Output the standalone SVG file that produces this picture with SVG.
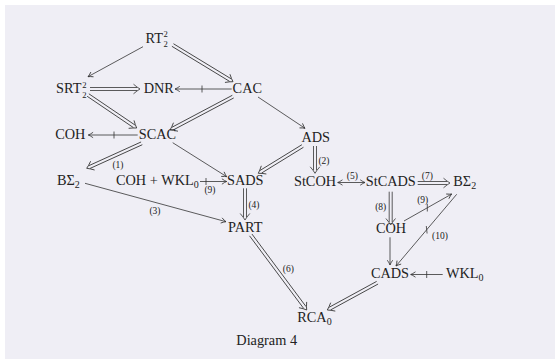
<svg xmlns="http://www.w3.org/2000/svg" width="555" height="359" viewBox="0 0 555 359">
<style>
text{font-family:"Liberation Serif","DejaVu Serif",serif;fill:#222222}
.n{font-size:14.3px}
.s{font-size:10px}
.ss{font-size:8.6px}
.lb{font-size:9.5px;text-anchor:middle}
.c{text-anchor:middle}
.ln{fill:none;stroke:#333333;stroke-width:0.8}
.dbl{fill:none;stroke:#333333;stroke-width:0.8}
</style>
<defs>
<marker id="ah" viewBox="-6 -4 7 8" refX="0" refY="0" markerWidth="7" markerHeight="8" markerUnits="userSpaceOnUse" orient="auto-start-reverse">
<path d="M-4.8,-2.7 Q-1.8,-0.6 0,0 Q-1.8,0.6 -4.8,2.7" fill="none" stroke="#333333" stroke-width="0.8"/>
</marker>
</defs>
<rect x="0" y="0" width="555" height="359" fill="#ffffff"/>
<rect x="5" y="5" width="550" height="354" fill="#efeef5"/>

<g id="connectors">
<line class="ln" x1="143" y1="46.7" x2="88" y2="76.7" marker-end="url(#ah)"/>
<line class="ln" x1="231.7" y1="89" x2="175" y2="89" marker-end="url(#ah)"/>
<line class="ln" x1="202" y1="85.5" x2="202" y2="92.5"/>
<line class="ln" x1="137.7" y1="135" x2="88.3" y2="135" marker-end="url(#ah)"/>
<line class="ln" x1="114" y1="131.5" x2="114" y2="138.5"/>
<line class="ln" x1="172.7" y1="142.7" x2="226.7" y2="176.7" marker-end="url(#ah)"/>
<line class="ln" x1="258" y1="97" x2="305" y2="128.3" marker-end="url(#ah)"/>
<line class="ln" x1="200" y1="181.5" x2="226.7" y2="181.5" marker-end="url(#ah)"/>
<line class="ln" x1="206" y1="178" x2="206" y2="185"/>
<line class="ln" x1="85" y1="183.3" x2="226" y2="221.7" marker-end="url(#ah)"/>
<line class="ln" x1="337.7" y1="182.5" x2="365" y2="182.5" marker-start="url(#ah)" marker-end="url(#ah)"/>
<line class="ln" x1="404" y1="221" x2="451.7" y2="194" marker-end="url(#ah)"/>
<line class="ln" x1="427.3" y1="204" x2="427.3" y2="211.5"/>
<line class="ln" x1="456.7" y1="194.3" x2="396" y2="266" marker-end="url(#ah)"/>
<line class="ln" x1="426.3" y1="226" x2="427.1" y2="233.5"/>
<line class="ln" x1="390" y1="237.3" x2="390" y2="265" marker-end="url(#ah)"/>
<line class="ln" x1="442.7" y1="274.5" x2="410.7" y2="274.5" marker-end="url(#ah)"/>
<line class="ln" x1="426.7" y1="271" x2="426.7" y2="278"/>
<path class="dbl" transform="translate(233,81.7) rotate(31.3)" d="M-70.6,-1.5H-3M-70.6,1.5H-3M-6.5,-4.8Q-2.8,-1.6 0,0Q-2.8,1.6 -6.5,4.8"/>
<path class="dbl" transform="translate(140,89) rotate(0)" d="M-50,-1.5H-3M-50,1.5H-3M-6.5,-4.8Q-2.8,-1.6 0,0Q-2.8,1.6 -6.5,4.8"/>
<path class="dbl" transform="translate(136.7,128) rotate(34.1)" d="M-58.8,-1.5H-3M-58.8,1.5H-3M-6.5,-4.8Q-2.8,-1.6 0,0Q-2.8,1.6 -6.5,4.8"/>
<path class="dbl" transform="translate(170,130) rotate(152.1)" d="M-71.3,-1.5H-3M-71.3,1.5H-3M-6.5,-4.8Q-2.8,-1.6 0,0Q-2.8,1.6 -6.5,4.8"/>
<path class="dbl" transform="translate(86.7,168.3) rotate(155.6)" d="M-60.4,-1.5H-3M-60.4,1.5H-3M-6.5,-4.8Q-2.8,-1.6 0,0Q-2.8,1.6 -6.5,4.8"/>
<path class="dbl" transform="translate(258.3,173.3) rotate(148.4)" d="M-52.1,-1.5H-3M-52.1,1.5H-3M-6.5,-4.8Q-2.8,-1.6 0,0Q-2.8,1.6 -6.5,4.8"/>
<path class="dbl" transform="translate(315,173.3) rotate(90)" d="M-27.3,-1.5H-3M-27.3,1.5H-3M-6.5,-4.8Q-2.8,-1.6 0,0Q-2.8,1.6 -6.5,4.8"/>
<path class="dbl" transform="translate(245,220) rotate(90)" d="M-31.7,-1.5H-3M-31.7,1.5H-3M-6.5,-4.8Q-2.8,-1.6 0,0Q-2.8,1.6 -6.5,4.8"/>
<path class="dbl" transform="translate(450,183) rotate(0)" d="M-32.3,-1.5H-3M-32.3,1.5H-3M-6.5,-4.8Q-2.8,-1.6 0,0Q-2.8,1.6 -6.5,4.8"/>
<path class="dbl" transform="translate(390.7,225) rotate(90)" d="M-33.3,-1.5H-3M-33.3,1.5H-3M-6.5,-4.8Q-2.8,-1.6 0,0Q-2.8,1.6 -6.5,4.8"/>
<path class="dbl" transform="translate(306.7,310) rotate(53.3)" d="M-93.6,-1.5H-3M-93.6,1.5H-3M-6.5,-4.8Q-2.8,-1.6 0,0Q-2.8,1.6 -6.5,4.8"/>
<path class="dbl" transform="translate(327.3,310) rotate(151.4)" d="M-57,-1.5H-3M-57,1.5H-3M-6.5,-4.8Q-2.8,-1.6 0,0Q-2.8,1.6 -6.5,4.8"/>
<text class="lb" x="118" y="168">(1)</text>
<text class="lb" x="324" y="164">(2)</text>
<text class="lb" x="155" y="214">(3)</text>
<text class="lb" x="254" y="208">(4)</text>
<text class="lb" x="352.3" y="179">(5)</text>
<text class="lb" x="288.3" y="271.5">(6)</text>
<text class="lb" x="427.3" y="179">(7)</text>
<text class="lb" x="380.7" y="210">(8)</text>
<text class="lb" x="210" y="193">(9)</text>
<text class="lb" x="422.7" y="202.5">(9)</text>
<text class="lb" x="440" y="239">(10)</text>
</g>

<g id="RT22"><text class="n" x="145.5" y="42.7">RT</text><text class="ss" x="163.5" y="37.3">2</text><text class="ss" x="163.5" y="47.2">2</text></g>
<g id="SRT22"><text class="n" x="56" y="93">SRT</text><text class="ss" x="82.2" y="87.6">2</text><text class="ss" x="82.2" y="97.5">2</text></g>
<g id="DNR"><text class="n c" x="158.8" y="93">DNR</text></g>
<g id="CAC"><text class="n c" x="247.3" y="93">CAC</text></g>
<g id="COH1"><text class="n c" x="70.3" y="139">COH</text></g>
<g id="SCAC"><text class="n c" x="157.5" y="139">SCAC</text></g>
<g id="ADS"><text class="n c" x="315.7" y="141.7">ADS</text></g>
<g id="BS2a"><text class="n" x="57" y="185">BΣ<tspan class="s" dy="2.8">2</tspan></text></g>
<g id="COHWKL"><text class="n" x="116" y="185">COH + WKL<tspan class="s" dy="2.8">0</tspan></text></g>
<g id="SADS"><text class="n c" x="245.3" y="185">SADS</text></g>
<g id="StCOH"><text class="n c" x="315" y="186">StCOH</text></g>
<g id="StCADS"><text class="n c" x="390.8" y="186">StCADS</text></g>
<g id="BS2b"><text class="n" x="453.3" y="186">BΣ<tspan class="s" dy="2.8">2</tspan></text></g>
<g id="PART"><text class="n c" x="245.3" y="231.7">PART</text></g>
<g id="COH2"><text class="n c" x="391" y="233.3">COH</text></g>
<g id="CADS"><text class="n c" x="390" y="278.3">CADS</text></g>
<g id="WKL0"><text class="n" x="446" y="278.3">WKL<tspan class="s" dy="2.8">0</tspan></text></g>
<g id="RCA0"><text class="n" x="297.3" y="322.3">RCA<tspan class="s" dy="2.8">0</tspan></text></g>
<g id="caption"><text class="n c" x="266.7" y="345">Diagram 4</text></g>
</svg>
